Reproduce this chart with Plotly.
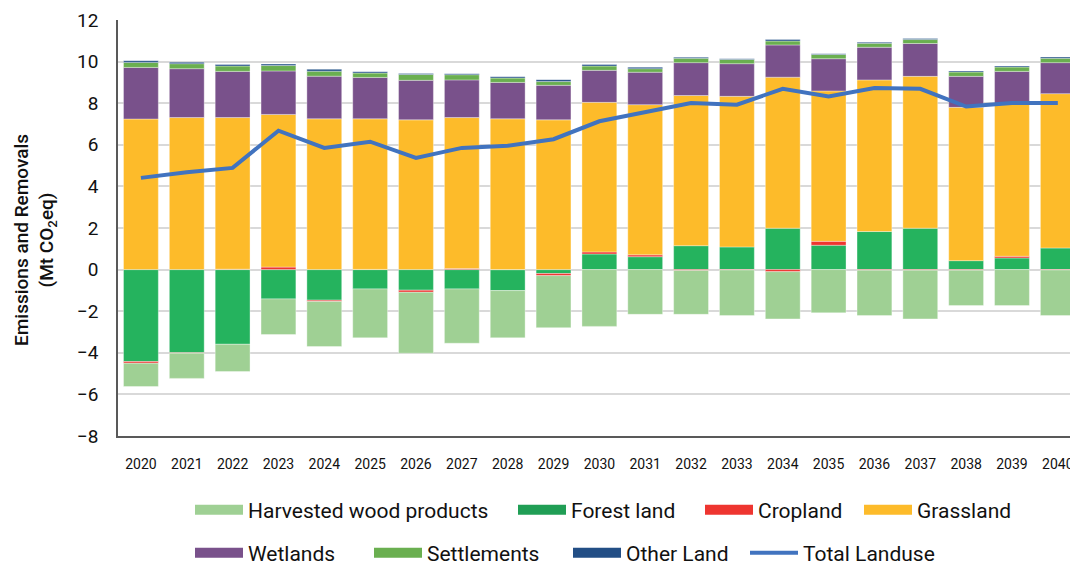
import plotly.graph_objects as go

years = [str(y) for y in range(2020, 2041)]

hwp = [-1.12, -1.21, -1.31, -1.71, -2.17, -2.35, -2.93, -2.61, -2.27, -2.50, -2.73,
       -2.15, -2.11, -2.19, -2.27, -2.08, -2.18, -2.34, -1.70, -1.73, -2.19]
forest = [-4.42, -4.00, -3.59, -1.41, -1.47, -0.93, -0.99, -0.93, -1.01, -0.19, 0.75,
          0.62, 1.15, 1.09, 1.99, 1.17, 1.83, 1.99, 0.43, 0.56, 1.04]
cropland = [-0.08, -0.02, 0.02, 0.12, -0.06, 0.01, -0.10, 0.05, 0.0, -0.10, 0.10,
            0.09, -0.04, -0.02, -0.10, 0.19, -0.03, -0.03, -0.03, 0.08, -0.02]
grassland = [7.24, 7.31, 7.29, 7.34, 7.25, 7.24, 7.20, 7.26, 7.25, 7.20, 7.19,
             7.22, 7.22, 7.24, 7.26, 7.23, 7.29, 7.30, 7.37, 7.33, 7.42]
wetlands = [2.48, 2.35, 2.22, 2.09, 2.05, 1.99, 1.90, 1.81, 1.75, 1.66, 1.54,
            1.56, 1.58, 1.57, 1.55, 1.55, 1.57, 1.58, 1.49, 1.56, 1.49]
settlements = [0.24, 0.24, 0.26, 0.26, 0.24, 0.21, 0.28, 0.25, 0.21, 0.18, 0.21,
               0.17, 0.21, 0.20, 0.19, 0.20, 0.19, 0.19, 0.21, 0.21, 0.21]
other_land = [0.08, 0.07, 0.07, 0.07, 0.09, 0.06, 0.05, 0.05, 0.06, 0.09, 0.07,
              0.07, 0.05, 0.04, 0.07, 0.04, 0.05, 0.05, 0.05, 0.05, 0.06]
total = [4.41, 4.68, 4.89, 6.68, 5.85, 6.15, 5.37, 5.85, 5.95, 6.27, 7.13,
         7.55, 8.01, 7.93, 8.69, 8.32, 8.73, 8.69, 7.84, 8.01, 8.01]

# stacking order: first trace sits next to zero (relative mode)
series = [
    ("Forest land", forest, "#25B35E", "#209E55"),
    ("Cropland", cropland, "#EE3530", "#EE3530"),
    ("Harvested wood products", hwp, "#9FD094", "#9FD094"),
    ("Grassland", grassland, "#FDBB2A", "#FDBB2A"),
    ("Wetlands", wetlands, "#79518B", "#79518B"),
    ("Settlements", settlements, "#6AAF50", "#6AAF50"),
    ("Other Land", other_land, "#1F4E86", "#224E85"),
]

# page body has an 8px margin, so figure coords = page coords - 8
OFF = 8
W, H = 1078 - OFF, 567 - OFF
PL, PT, PB = 118 - OFF, 20 - OFF, 436 - OFF
PW, PH = W - PL, PB - PT

# legend slots: (legend id, swatch left px, row centre px) in page coords
legend_pos = {
    "Harvested wood products": ("legend", 197, 510),
    "Forest land": ("legend2", 520, 510),
    "Cropland": ("legend3", 707, 510),
    "Grassland": ("legend4", 866, 510),
    "Wetlands": ("legend5", 197, 553),
    "Settlements": ("legend6", 376, 553),
    "Other Land": ("legend7", 575, 553),
    "Total Landuse": ("legend8", 752, 553),
}

fig = go.Figure()
for name, vals, col, lcol in series:
    fig.add_trace(go.Bar(x=years, y=vals, name=name, marker_color=col,
                         marker_line=dict(color="rgba(255,255,255,0.35)", width=1),
                         showlegend=False))

# legend entries with wide swatches
for name, vals, col, lcol in series:
    fig.add_trace(go.Scatter(x=[None], y=[None], mode="lines", name=name,
                             line=dict(color=lcol, width=14),
                             legend=legend_pos[name][0]))

fig.add_trace(go.Scatter(x=years, y=total, name="Total Landuse", mode="lines",
                         line=dict(color="#4173BF", width=4),
                         legend=legend_pos["Total Landuse"][0]))

legends = {}
for name, (lid, px, py) in legend_pos.items():
    legends[lid] = dict(orientation="h", x=(px - OFF - 7 - PL) / PW,
                        y=(PB - (py - OFF)) / PH,
                        xanchor="left", yanchor="middle", itemwidth=48,
                        font=dict(size=21, color="#111111"), itemclick=False,
                        bgcolor="rgba(0,0,0,0)")

fig.update_layout(
    width=W, height=H,
    barmode="relative", bargap=0.24,
    plot_bgcolor="white", paper_bgcolor="white",
    margin=dict(l=PL, r=0, t=PT, b=H - PB, autoexpand=False),
    font=dict(family="Roboto, DejaVu Sans, sans-serif", size=16, color="#111111"),
    **legends,
)
fig.update_xaxes(type="category", range=[-0.5, 20.44], showline=True, linecolor="#595959",
                 linewidth=1.5, tickfont=dict(size=14), ticklabelstandoff=14,
                 showgrid=False, automargin=False)
fig.update_yaxes(range=[-8, 12], dtick=2, showgrid=True, gridcolor="#D9D9D9", gridwidth=1.5,
                 zeroline=False, showline=True, linecolor="#595959", linewidth=1.5,
                 tickfont=dict(size=19), ticklabelstandoff=14, automargin=False)

fig.add_annotation(text="Emissions and Removals<br>(Mt CO<sub>2</sub>eq)",
                   xref="paper", yref="paper",
                   x=(35 - OFF - PL) / PW, y=(PB - (240 - OFF)) / PH,
                   xanchor="center", yanchor="middle", textangle=-90, showarrow=False,
                   font=dict(size=19, color="#111111", weight=500))

fig.write_html("out.html")
